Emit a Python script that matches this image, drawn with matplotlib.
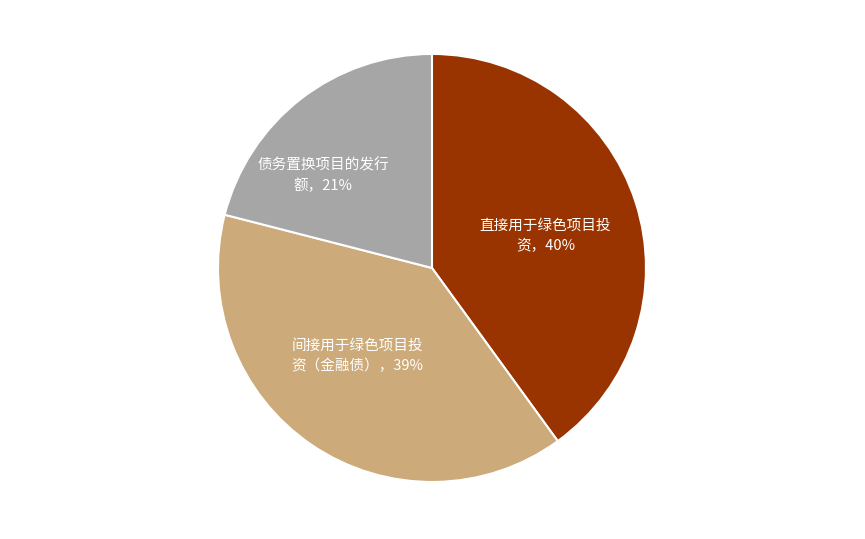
import matplotlib.pyplot as plt

plt.rcParams['font.family'] = ['Noto Sans CJK SC', 'DejaVu Sans']

labels = ['直接用于绿色项目投\n资，40%', '间接用于绿色项目投\n资（金融债），39%', '债务置换项目的发行\n额，21%']
shares = [40, 39, 21]
colors = ['#993300', '#CCAA7A', '#A6A6A6']
label_pos = [(0.53, 0.15), (-0.35, -0.41), (-0.51, 0.43)]

fig = plt.figure(figsize=(8.65, 5.39), dpi=100)
ax = fig.add_axes([0.2520, 0.1058, 0.4948, 0.7941])
ax.pie(shares, colors=colors, startangle=90, counterclock=False,
       wedgeprops=dict(edgecolor='white', linewidth=1.5))
for lab, (x, y) in zip(labels, label_pos):
    ax.text(x, y, lab, color='white', fontsize=10.5, ha='center', va='center', linespacing=1.5)
ax.set_xlim(-1, 1)
ax.set_ylim(-1, 1)
fig.savefig('out.png', dpi=100)
